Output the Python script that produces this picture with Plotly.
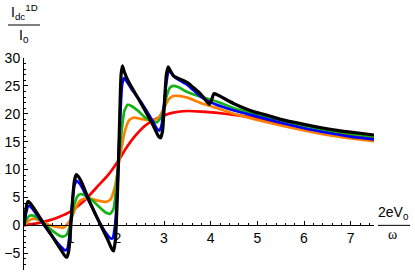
import plotly.graph_objects as go

# ---- data ----
x_black = [0, 0.03, 0.06, 0.09, 0.13, 0.2, 0.4, 0.6, 0.8, 0.88, 0.92, 0.96, 1.0, 1.04, 1.08, 1.12, 1.16, 1.22,
           1.4, 1.6, 1.8, 1.88, 1.92, 1.96, 2.0, 2.04, 2.08, 2.11, 2.15, 2.25, 2.5, 2.75, 2.88, 2.93, 2.97,
           3.01, 3.05, 3.09, 3.13, 3.2, 3.5, 3.8, 3.97, 4.02, 4.07, 4.12, 4.5, 4.95, 5.05, 5.3, 5.5, 6.0,
           6.5, 7.0, 7.5]
y_black = [0, 2.2, 3.8, 4.3, 4.0, 3.2, 0.6, -1.9, -4.5, -5.5, -5.7, -4.5, -0.5, 4.5, 8.0, 9.1, 8.8, 8.0,
           4.4, 0.8, -2.7, -4.2, -4.6, -2.5, 5.0, 16.0, 27.0, 28.6, 27.5, 25.6, 22.0, 18.2, 16.0, 15.7, 17.0,
           22.0, 27.0, 28.4, 27.8, 26.8, 25.6, 23.4, 21.7, 22.5, 23.6, 23.5, 21.8, 20.3, 20.1, 19.5, 19.0, 18.1,
           17.3, 16.7, 16.2]

x_blue = [0, 0.04, 0.08, 0.12, 0.18, 0.4, 0.6, 0.8, 0.88, 0.93, 0.98, 1.03, 1.08, 1.13, 1.2, 1.4, 1.6,
          1.75, 1.85, 1.9, 1.95, 2.0, 2.05, 2.1, 2.14, 2.2, 2.3, 2.5, 2.75, 2.85, 2.9, 2.95, 3.0, 3.05,
          3.1, 3.15, 3.25, 3.5, 3.8, 4.1, 4.5, 5.0, 5.5, 6.0, 6.5, 7.0, 7.5]
y_blue = [0, 2.0, 3.3, 3.5, 3.0, 0.4, -1.9, -3.9, -4.5, -4.2, -1.5, 3.5, 7.2, 8.0, 7.4, 4.2, 0.8,
          -1.3, -2.3, -2.3, 0.0, 6.0, 17.0, 25.0, 26.4, 25.8, 24.5, 22.2, 18.8, 17.3, 17.0, 18.0, 21.5, 25.5,
          27.6, 27.4, 26.4, 25.2, 23.0, 21.7, 20.6, 19.5, 18.4, 17.4, 16.6, 15.9, 15.4]

x_green = [0, 0.05, 0.1, 0.15, 0.22, 0.4, 0.6, 0.75, 0.85, 0.92, 1.0, 1.08, 1.15, 1.22, 1.3, 1.45, 1.6,
           1.75, 1.85, 1.92, 2.0, 2.08, 2.15, 2.22, 2.3, 2.45, 2.6, 2.75, 2.85, 2.95, 3.05, 3.12, 3.2, 3.3,
           3.5, 3.8, 4.1, 4.5, 5.0, 5.5, 6.0, 6.5, 7.0, 7.5]
y_green = [0, 1.0, 1.6, 1.8, 1.7, 0.5, -0.9, -1.8, -2.0, -1.6, 0.5, 3.8, 5.3, 5.6, 5.4, 4.6, 3.4,
           2.3, 2.1, 3.0, 9.0, 16.0, 20.5, 21.6, 21.4, 20.5, 19.3, 18.6, 18.5, 19.5, 23.0, 24.6, 25.0, 24.8,
           23.9, 23.0, 22.3, 21.0, 19.9, 18.8, 17.8, 17.0, 16.4, 15.9]

x_orange = [0, 0.1, 0.2, 0.3, 0.5, 0.7, 0.85, 1.0, 1.1, 1.2, 1.3, 1.45, 1.6, 1.75, 1.85, 1.95, 2.05,
            2.15, 2.25, 2.35, 2.5, 2.65, 2.8, 2.9, 3.0, 3.1, 3.2, 3.3, 3.5, 3.8, 4.1, 4.5, 5.0, 5.5, 6.0,
            6.5, 7.0, 7.5]
y_orange = [0, 0.8, 1.2, 1.0, 0.2, -0.3, -0.4, 1.0, 3.0, 4.4, 4.8, 4.7, 4.4, 4.2, 4.6, 7.0, 12.0,
            16.5, 18.8, 19.3, 19.1, 18.9, 18.9, 19.5, 21.0, 22.6, 23.2, 23.2, 22.9, 21.9, 21.1, 20.0, 18.9,
            17.9, 17.0, 16.2, 15.6, 15.1]

x_red = [0, 0.25, 0.5, 0.75, 1.0, 1.3, 1.6, 1.8, 2.0, 2.2, 2.4, 2.6, 2.8, 3.0, 3.2, 3.5, 3.8, 4.1,
         4.5, 5.0, 5.5, 6.0, 6.5, 7.0, 7.5]
y_red = [0, 0.3, 0.8, 1.5, 2.5, 4.5, 7.2, 9.0, 11.3, 14.0, 16.2, 17.9, 19.0, 19.7, 20.2, 20.5, 20.4,
         20.2, 19.8, 19.2, 18.3, 17.5, 16.7, 16.1, 15.6]

x_ticks = [1, 2, 3, 4, 5, 6, 7]
y_ticks = [-5, 0, 5, 10, 15, 20, 25, 30]

XMIN, XMAX = 0, 7.5
YMIN, YMAX = -8, 30

FONT = "Liberation Sans, Arial, sans-serif"

fig = go.Figure()
series = [
    (x_red, y_red, "#ff0000", 2.7),
    (x_orange, y_orange, "#ff8000", 2.7),
    (x_green, y_green, "#14b414", 2.7),
    (x_blue, y_blue, "#0000ff", 2.7),
    (x_black, y_black, "#000000", 3.2),
]
for xs, ys, c, w in series:
    fig.add_trace(go.Scatter(x=xs, y=ys, mode="lines",
                             line=dict(color=c, width=w, shape="spline", smoothing=0.5),
                             showlegend=False, hoverinfo="skip"))

fig.update_layout(
    width=415, height=275,
    margin=dict(l=24, r=41, t=58, b=5),
    paper_bgcolor="white", plot_bgcolor="white",
    font=dict(family=FONT, size=14, color="black"),
    xaxis=dict(range=[XMIN, XMAX], showgrid=False, zeroline=False,
               showline=True, linecolor="black", linewidth=1,
               anchor="free", position=(0 - YMIN) / (YMAX - YMIN),
               tickvals=x_ticks, ticks="inside", ticklen=4, tickcolor="black",
               minor=dict(dtick=0.2, ticks="inside", ticklen=2, tickcolor="black", showgrid=False),
               automargin=False, tickfont=dict(size=14)),
    yaxis=dict(range=[YMIN, YMAX], showgrid=False, zeroline=False,
               showline=True, linecolor="black", linewidth=1,
               tickvals=y_ticks, ticks="inside", ticklen=4, tickcolor="black",
               minor=dict(dtick=1, ticks="inside", ticklen=2, tickcolor="black", showgrid=False),
               automargin=False, tickfont=dict(size=14)),
)

# axis labels as fractions
fig.add_annotation(xref="paper", yref="paper", x=0.0, y=1.0, yshift=34, xanchor="center", yanchor="bottom",
                   text="I<sub>dc</sub><sup>1D</sup>", showarrow=False, font=dict(size=14))
fig.add_annotation(xref="paper", yref="paper", x=0.0, y=1.0, yshift=11, xanchor="center", yanchor="bottom",
                   text="I<sub>0</sub>", showarrow=False, font=dict(size=14))
fig.add_shape(type="line", xref="paper", yref="paper", x0=-16 / 350, x1=16 / 350,
              y0=1 + 33 / 212, y1=1 + 33 / 212, line=dict(color="black", width=1))

fig.add_annotation(xref="paper", yref="y", x=1.0, y=0, xshift=2, yshift=1, xanchor="left", yanchor="bottom",
                   text="2eV<sub>0</sub>", showarrow=False, font=dict(size=14))
fig.add_annotation(xref="paper", yref="y", x=1.0, y=0, xshift=12, yshift=0, xanchor="left", yanchor="top",
                   text="ω", showarrow=False, font=dict(size=14, family="Liberation Serif, serif"))
fig.add_shape(type="line", xref="paper", yref="y", x0=1 + 4 / 350, x1=1 + 36 / 350,
              y0=0, y1=0, line=dict(color="black", width=1))

fig.write_html("out.html", config={"displayModeBar": False},
               post_script="document.body.style.margin='0';document.body.style.overflow='hidden';")
